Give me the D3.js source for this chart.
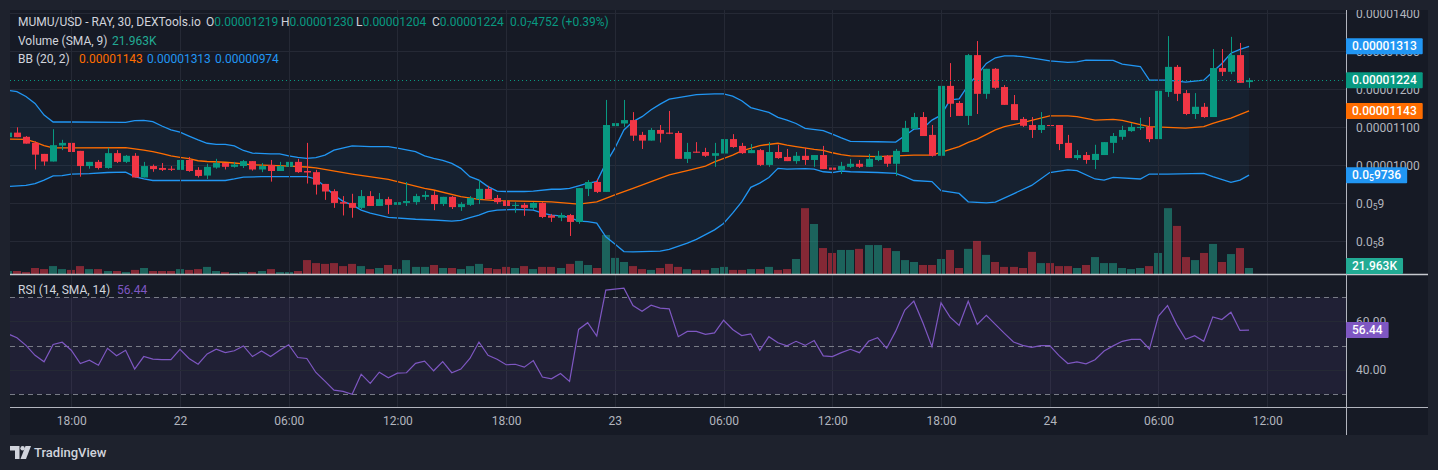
<!DOCTYPE html>
<html><head><meta charset="utf-8">
<script src="https://cdn.jsdelivr.net/npm/d3@7"></script>
<style>
html,body{margin:0;padding:0;background:#1e222d;overflow:hidden;}
svg{display:block;font-family:Roboto,"Noto Sans",sans-serif;}
</style></head><body>
<svg id="c" width="1438" height="470"></svg>
<script>
// ---------------- DATA (prices in units of 1e-8 USD, candle index -1..136, 30-minute candles) ----------------
const firstIndex = -1;
const opens = [1074,
 1086,1075,1059,1030,1010,1052,1059,1038,998,1009,
 993,1032,1009,1025,968,998,993,991,988,1014,
 988,973,994,1006,996,998,1011,989,1001,985,
 996,1009,985,982,951,932,903,901,888,919,
 893,911,896,901,903,917,922,898,917,890,
 896,911,938,914,906,893,896,888,901,868,
 862,869,851,938,956,930,1103,1110,1119,1080,
 1065,1093,1086,1085,1017,1036,1035,1025,1031,1069,
 1051,1032,1040,1001,1035,1022,1011,1025,1014,1027,
 994,988,996,1004,996,1014,1025,1004,1035,1096,
 1127,1080,1025,1209,1164,1130,1290,1188,1254,1206,
 1161,1122,1106,1093,1106,1106,1059,1019,1027,1014,
 1027,1059,1075,1090,1098,1101,1069,1193,1259,1190,
 1135,1154,1127,1256,1246,1290,1219];
const highs = [1086,
 1100,1077,1063,1030,1095,1067,1064,1038,1009,1014,
 1046,1040,1027,1032,1009,1002,1006,998,1022,1022,
 995,1004,1017,1006,1009,1014,1011,1006,1014,1009,
 1017,1017,1059,988,951,937,919,925,935,932,
 927,917,917,956,925,932,932,917,919,903,
 919,961,946,922,906,903,901,903,903,872,
 875,872,940,961,964,1172,1140,1172,1140,1088,
 1098,1106,1143,1090,1059,1061,1046,1059,1085,1082,
 1059,1056,1043,1061,1054,1043,1035,1046,1027,1051,
 1004,1009,1017,1014,1030,1038,1027,1043,1117,1138,
 1140,1106,1217,1269,1169,1293,1327,1254,1256,1211,
 1185,1127,1127,1140,1138,1106,1080,1040,1035,1054,
 1061,1085,1104,1111,1125,1127,1225,1340,1264,1198,
 1190,1164,1306,1306,1338,1322,1230];
const lows = [1072,
 1074,1057,989,999,1010,1040,1035,970,991,989,
 991,1006,1006,968,968,983,985,985,981,983,
 968,964,991,989,994,993,986,982,957,985,
 993,980,952,923,909,888,868,862,885,893,
 893,872,888,893,896,909,882,893,885,880,
 893,898,911,898,882,875,867,882,861,851,
 853,814,846,919,927,930,1043,1101,1064,1043,
 1065,1060,1082,1017,1006,1033,1022,996,1031,1046,
 1030,1032,998,996,1017,1011,1004,1001,996,990,
 975,977,993,993,996,1011,996,972,1035,1096,
 1077,1023,1020,1127,1130,1106,1135,1175,1201,1159,
 1119,1101,1072,1085,1096,1040,1019,1014,1004,990,
 1027,1032,1067,1088,1093,1061,1069,1180,1169,1132,
 1122,1125,1127,1235,1240,1217,1204];
const closes = [1086,
 1074,1057,1028,1010,1053,1059,1035,998,1009,993,
 1032,1009,1025,968,998,990,988,988,1014,985,
 972,996,1006,996,1002,1011,989,998,985,998,
 1009,982,981,949,931,901,899,888,919,893,
 911,896,903,906,919,922,898,917,890,898,
 914,938,911,903,893,896,888,901,864,862,
 869,851,940,956,930,1106,1111,1119,1078,1065,
 1093,1083,1083,1017,1035,1033,1025,1032,1069,1048,
 1032,1040,1001,1035,1019,1011,1025,1014,1027,990,
 988,998,1004,996,1017,1025,1004,1038,1098,1127,
 1077,1025,1209,1162,1130,1290,1188,1254,1204,1159,
 1119,1104,1093,1106,1104,1056,1019,1027,1014,1030,
 1061,1077,1093,1101,1101,1069,1196,1259,1188,1135,
 1154,1127,1256,1246,1290,1217,1224];
// volume in thousands
const volumes = [11,
 11,7,22,18,29,18,15,29,18,18,
 11,11,7,15,22,11,11,11,18,15,
 18,26,11,7,4,7,7,11,18,7,
 7,11,51,40,37,40,29,37,29,18,
 22,33,18,51,26,26,33,22,22,18,
 29,37,22,18,26,22,29,18,26,26,
 22,37,48,33,22,143,59,44,29,18,
 15,22,37,26,18,15,15,22,26,15,
 15,18,18,26,15,18,55,241,183,95,
 77,88,88,92,106,106,95,84,51,44,
 33,33,55,88,22,92,121,70,44,26,
 26,22,81,40,40,29,29,22,33,62,
 40,40,22,18,22,29,77,241,176,62,
 51,77,110,44,73,95,21.963];
const rsiValues = [54.9,
 53.3,50.1,46.0,43.3,50.5,51.4,48.1,42.6,44.0,41.9,
 48.9,45.8,48.1,40.3,45.5,44.4,44.2,44.2,48.5,44.7,
 42.3,46.6,48.5,47.1,47.9,49.9,45.5,47.8,45.5,48.1,
 50.4,45.1,44.7,38.9,35.3,31.6,31.1,29.9,38.2,34.4,
 39.0,36.7,38.6,38.8,42.7,43.6,39.6,43.4,38.8,40.3,
 44.7,51.5,46.0,44.4,42.1,42.3,41.1,43.8,37.0,36.3,
 38.5,35.2,56.7,59.5,54.0,73.0,73.4,73.8,66.6,64.2,
 66.7,65.5,65.2,53.7,55.9,55.9,54.7,55.3,60.5,56.7,
 54.2,54.9,48.1,53.7,51.2,49.9,51.8,50.1,52.1,45.8,
 45.5,47.1,48.5,47.1,51.8,53.3,48.9,56.0,64.7,68.4,
 59.5,49.6,67.7,61.8,58.4,68.4,58.8,62.5,58.8,55.1,
 51.5,50.1,49.3,50.0,50.0,46.0,42.6,43.3,42.5,44.2,
 47.8,49.9,51.8,52.6,52.6,48.6,62.2,66.6,58.8,52.6,
 54.1,51.8,61.9,60.8,63.8,56.3,56.44];
// Bollinger bands: [candle index, value]
const bbUpper = [[-1,1197],[0,1194],[1,1181],[2,1163],[3,1132],[4,1114],[6,1114],[12,1113],[13,1117.5],[14,1118],[15,1115],[16,1103.5],[17,1093],[18,1087],[19,1077],[20,1067],[21,1058],[22,1055],[23,1055],[24,1051],[25,1039],[26,1032],[28,1030],[29,1030],[30,1025],[31,1021],[32,1018],[33,1020],[34,1027],[35,1040],[37,1051],[39,1049],[41,1049],[42,1045],[44,1036],[45,1025],[46,1018],[47,1013],[48,1005],[49,992],[50,970],[51,961],[52,944],[53,932],[54,931],[56,931],[57,932],[59,937],[60,937],[61,939],[62,946],[63,953],[64,957],[65,1005],[66,1045],[67,1093],[68,1115],[69,1128],[70,1146],[71,1161],[72,1174],[74,1182],[75,1186],[77,1188],[78,1188],[79,1182],[80,1170],[81,1152],[83,1139],[84,1126],[85,1119],[86,1110],[87,1097],[89,1091],[90,1082],[91,1072],[92,1063],[95,1062],[97,1061],[98,1078],[99,1095],[100,1097],[101,1119],[102,1132],[103,1172],[104,1175],[105,1211],[106,1238],[107,1268],[108,1283],[109,1288],[110,1288],[111,1286],[113,1279],[114,1275],[116,1271],[117,1272],[118,1277],[121,1276],[122,1266],[124,1260],[125,1224],[127,1224],[129,1219],[131,1224],[132,1246],[133,1268],[134,1295],[135,1305],[136,1313]];
const bbBasis = [[-1,1069],[1,1068],[2,1061],[3,1052],[4,1046],[6,1046],[12,1046.5],[13,1043],[14,1040],[15,1036],[16,1031],[17,1025],[18,1021],[19,1017.5],[20,1012],[21,1010],[23,1008],[24,1006],[25,1004],[26,1001],[28,1000],[30,998],[32,995.5],[33,993],[37,977],[41,963],[45,939.5],[46,935],[49,917.5],[51,910.5],[53,907],[57,905],[59,903.5],[61,900],[62,898],[64,904],[65,913],[66,922],[68,939.5],[70,957],[72,974.6],[74,986],[76,998],[77,1009],[79,1027],[80,1038],[82,1052],[84,1058],[85,1053],[86,1049],[88,1042],[89,1039.5],[90,1033],[91,1028],[92,1025],[95,1023],[97,1025],[99,1027],[101,1027],[104,1049],[105,1060.5],[106,1069],[108,1093],[109,1102],[111,1112],[114,1130],[116,1130],[117,1128],[119,1119],[121,1121],[122,1118],[124,1107],[125,1102],[127,1100],[129,1098],[131,1102],[132,1110.5],[133,1117.5],[134,1124],[136,1143]];
const bbLower = [[-1,944],[1,947],[2,952],[3,961],[4,972],[5,973],[6,977],[8,978],[10,981],[12,982],[13,970],[14,964],[15,960],[18,960],[20,960],[23,960],[24,964],[25,969],[27,970],[32,970],[33,964],[34,944],[35,922],[36,905],[37,896],[38,882],[39,874],[41,863],[44,858],[46,856],[48,853],[49,855],[50,862],[51,869],[52,878],[53,882],[55,884],[57,882],[58,874],[59,869],[60,867],[61,863],[62,853],[63,852],[64,848],[65,812],[66,793],[67,773],[68,772],[71,774],[72,779],[74,795],[75,805],[77,830],[78,847],[79,874],[80,904],[81,942],[82,953],[83,968],[84,992],[85,990],[87,991],[88,990],[89,983],[90,981],[91,985],[92,983],[95,981],[97,979],[98,970],[99,960],[101,957],[102,933],[104,926],[105,904],[107,901],[108,903],[110,925],[112,947],[114,981],[116,988],[117,986],[119,964],[120,961],[121,968],[124,964],[125,977],[127,977],[131,979],[132,970],[134,955],[135,961],[136,974]];

const timeTickIdx = [6,18,30,42,54,66,78,90,102,114,126,138];
const timeTickLabels = ["18:00","22","06:00","12:00","18:00","23","06:00","12:00","18:00","24","06:00","12:00"];
const priceTicks = [1400,1300,1200,1100,1000,900,800];
const priceTickLabels = ["0.00001400","0.00001300","0.00001200","0.00001100","0.00001000","0.0\u20859","0.0\u20858"];
const rsiTicks = [60,40];
const rsiTickLabels = ["60.00","40.00"];
const rsiBands = [70,50,30];

const legendTitle = "MUMU/USD - RAY, 30, DEXTools.io";
const legendOHLC = [["O","0.00001219"],["H","0.00001230"],["L","0.00001204"],["C","0.00001224"]];
const legendChange = "0.0\u20874752 (+0.39%)";
const volLegend = ["Volume (SMA, 9)","21.963K"];
const bbLegend = ["BB (20, 2)","0.00001143","0.00001313","0.00000974"];
const rsiLegend = ["RSI (14, SMA, 14)","56.44"];
const lastLabels = {upper:"0.00001313", close:"0.00001224", basis:"0.00001143", lower:"0.0\u20859736", volume:"21.963K", rsi:"56.44"};

// ---------------- LAYOUT ----------------
const L=10, T=10, PR=1346, AX=1428, MB=274, RB=407, TB=435;
const GREEN="#089981", RED="#f23645", BLUE="#2196f3", ORANGE="#ff6d00", PURPLE="#7e57c2";
const GRID="#252935", TXT="#b2b5be";

const svg = d3.select("#c");
const defs = svg.append("defs");
defs.append("clipPath").attr("id","mainClip").append("rect").attr("x",L).attr("y",T).attr("width",PR-L).attr("height",MB-T);
defs.append("clipPath").attr("id","rsiClip").append("rect").attr("x",L).attr("y",MB).attr("width",PR-L).attr("height",RB-MB);
defs.append("clipPath").attr("id","axClip").append("rect").attr("x",PR).attr("y",T).attr("width",AX-PR).attr("height",MB-T);

svg.append("rect").attr("width",1438).attr("height",470).attr("fill","#1e222d");
svg.append("rect").attr("x",L).attr("y",T).attr("width",AX-L).attr("height",TB-T).attr("fill","#161a25");

const x = d3.scaleLinear().domain([0,136]).range([16.9, 16.9+136*9.06]);
const y = d3.scaleLinear().domain([800,1400]).range([241.3,13.3]);
const vy = d3.scaleLinear().domain([0,250]).range([MB, MB-250/3.66]);
const ry = d3.scaleLinear().domain([30,70]).range([394,297.3]);

const candles = opens.map((o,i)=>({i:i+firstIndex,o,h:highs[i],l:lows[i],c:closes[i],v:volumes[i],r:rsiValues[i]}));
const up = d=>d.c>=d.o;

// ---------------- MAIN PANE ----------------
const main = svg.append("g").attr("clip-path","url(#mainClip)");
main.selectAll(".hg").data(priceTicks).join("line")
  .attr("x1",L).attr("x2",PR).attr("y1",d=>Math.round(y(d))+0.5).attr("y2",d=>Math.round(y(d))+0.5)
  .attr("stroke",GRID);
svg.append("g").selectAll("line").data(timeTickIdx).join("line")
  .attr("x1",d=>Math.round(x(d))+0.5).attr("x2",d=>Math.round(x(d))+0.5).attr("y1",T).attr("y2",RB)
  .attr("stroke",GRID);

// BB fill
const bandPoly = bbUpper.map(d=>[x(d[0]),y(d[1])]).concat(bbLower.slice().reverse().map(d=>[x(d[0]),y(d[1])]));
main.append("path").attr("d","M"+bandPoly.map(p=>p.join(",")).join("L")+"Z").attr("fill","rgba(33,150,243,0.06)");

// volume
main.selectAll(".vol").data(candles).join("rect")
  .attr("x",d=>Math.round(x(d.i)-4)).attr("width",8)
  .attr("y",d=>vy(d.v)).attr("height",d=>MB-vy(d.v))
  .attr("fill",d=>up(d)?"rgba(34,171,148,0.5)":"rgba(242,54,69,0.5)");

// BB lines
const line = d3.line().x(d=>x(d[0])).y(d=>y(d[1]));
main.append("path").attr("d",line(bbUpper)).attr("fill","none").attr("stroke",BLUE).attr("stroke-width",1.3);
main.append("path").attr("d",line(bbLower)).attr("fill","none").attr("stroke",BLUE).attr("stroke-width",1.3);
main.append("path").attr("d",line(bbBasis)).attr("fill","none").attr("stroke",ORANGE).attr("stroke-width",1.3);

// candles
const cg = main.append("g");
cg.selectAll(".wick").data(candles).join("line")
  .attr("x1",d=>Math.round(x(d.i))+0.5).attr("x2",d=>Math.round(x(d.i))+0.5)
  .attr("y1",d=>y(d.h)).attr("y2",d=>y(d.l))
  .attr("stroke",d=>up(d)?GREEN:RED).attr("stroke-width",1);
cg.selectAll(".body").data(candles).join("rect")
  .attr("x",d=>Math.round(x(d.i))-3).attr("width",7)
  .attr("y",d=>y(Math.max(d.o,d.c))).attr("height",d=>Math.max(1,Math.abs(y(d.o)-y(d.c))))
  .attr("fill",d=>up(d)?GREEN:RED);

// last price dotted line
const last = candles[candles.length-1];
main.append("line").attr("x1",L).attr("x2",PR).attr("y1",Math.round(y(last.c))+0.5).attr("y2",Math.round(y(last.c))+0.5)
  .attr("stroke",GREEN).attr("stroke-dasharray","1,3");

// ---------------- RSI PANE ----------------
const rsi = svg.append("g").attr("clip-path","url(#rsiClip)");
rsi.append("rect").attr("x",L).attr("width",PR-L).attr("y",ry(70)).attr("height",ry(30)-ry(70)).attr("fill","rgba(126,87,194,0.1)");
rsi.selectAll(".rg").data(rsiTicks).join("line").attr("x1",L).attr("x2",PR)
  .attr("y1",d=>Math.round(ry(d))+0.5).attr("y2",d=>Math.round(ry(d))+0.5).attr("stroke",GRID);
rsi.selectAll(".rb").data(rsiBands).join("line").attr("x1",L).attr("x2",PR)
  .attr("y1",d=>Math.round(ry(d))+0.5).attr("y2",d=>Math.round(ry(d))+0.5)
  .attr("stroke","#787b86").attr("stroke-dasharray","5,4");
rsi.append("path").attr("d",d3.line().x(d=>x(d.i)).y(d=>ry(d.r))(candles))
  .attr("fill","none").attr("stroke",PURPLE).attr("stroke-width",1.2);

// ---------------- SEPARATORS ----------------
svg.append("line").attr("x1",L).attr("x2",AX).attr("y1",MB+0.5).attr("y2",MB+0.5).attr("stroke","#c7c9cf").attr("stroke-width",1.5);
svg.append("line").attr("x1",L).attr("x2",AX).attr("y1",RB+0.5).attr("y2",RB+0.5).attr("stroke","#b2b5be");
svg.append("line").attr("x1",PR+0.5).attr("x2",PR+0.5).attr("y1",T).attr("y2",TB).attr("stroke","#b2b5be");

// ---------------- HELPERS ----------------
function subText(sel, str){
  const parts = str.split(/([\u2080-\u2089])/);
  let sub=false;
  parts.forEach(p=>{
    if(!p) return;
    if(/[\u2080-\u2089]/.test(p)){
      sel.append("tspan").attr("font-size","0.72em").attr("dy",3).text(String.fromCharCode(p.charCodeAt(0)-0x2080+48));
      sub=true;
    } else {
      const t = sel.append("tspan").text(p);
      if(sub){t.attr("dy",-3); sub=false;}
    }
  });
}

// ---------------- AXES ----------------
const xAxis = d3.axisBottom(x).tickValues(timeTickIdx).tickFormat((d,i)=>timeTickLabels[i]).tickSize(0).tickPadding(0);
const xg = svg.append("g").attr("transform",`translate(0,${RB+8})`).call(xAxis);
xg.select(".domain").remove();
xg.selectAll("text").attr("fill",TXT).attr("font-size",12).attr("font-family","Roboto, sans-serif").attr("dy","0.85em");

const yAxis = d3.axisRight(y).tickValues(priceTicks).tickFormat(()=>"").tickSize(0);
const yWrap = svg.append("g").attr("clip-path","url(#axClip)");
const yg = yWrap.append("g").attr("transform",`translate(${PR+10},0)`).call(yAxis);
yg.select(".domain").remove();
yg.selectAll("text").each(function(d){
  const t=d3.select(this).attr("fill",TXT).attr("font-size",12).attr("font-family","Roboto, sans-serif")
    .attr("x",0).attr("dy",null).attr("dominant-baseline","central").attr("text-anchor","start");
  t.text(null); subText(t, priceTickLabels[priceTicks.indexOf(d)]);
});

const ryAxis = d3.axisRight(ry).tickValues(rsiTicks).tickFormat((d,i)=>rsiTickLabels[i]).tickSize(0);
const rg = svg.append("g").attr("transform",`translate(${PR+10},0)`).call(ryAxis);
rg.select(".domain").remove();
rg.selectAll("text").attr("fill",TXT).attr("font-size",12).attr("font-family","Roboto, sans-serif")
  .attr("x",0).attr("dy",null).attr("dominant-baseline","central");

// ---------------- LAST VALUE BOXES ----------------
function box(label, cy, color){
  const g = svg.append("g");
  const r = g.append("rect").attr("x",PR).attr("y",cy-8).attr("height",16).attr("rx",1).attr("fill",color);
  const t = g.append("text").attr("x",PR+6).attr("y",cy).attr("dominant-baseline","central")
    .attr("fill","#ffffff").attr("font-size",12).attr("font-weight",500);
  subText(t,label);
  const w = t.node().getComputedTextLength();
  r.attr("width",w+12);
}
box(lastLabels.upper, y(bbUpper[bbUpper.length-1][1]), BLUE);
box(lastLabels.close, y(last.c), GREEN);
box(lastLabels.basis, y(bbBasis[bbBasis.length-1][1]), ORANGE);
box(lastLabels.lower, y(bbLower[bbLower.length-1][1]), BLUE);
box(lastLabels.volume, Math.min(vy(last.v), MB-8), "#22ab94");
box(lastLabels.rsi, ry(last.r), PURPLE);

// ---------------- LEGENDS ----------------
const lg = svg.append("g").attr("font-size",12).attr("dominant-baseline","central");
lg.append("text").attr("x",18).attr("y",22).attr("fill","#d1d4dc").text(legendTitle);
const ohlcX=[206,281,356,432];
legendOHLC.forEach((p,i)=>{
  const t=lg.append("text").attr("x",ohlcX[i]).attr("y",22).attr("dominant-baseline","central");
  t.append("tspan").attr("fill","#d1d4dc").text(p[0]);
  t.append("tspan").attr("fill",GREEN).text(p[1]);
});
const ct = lg.append("text").attr("x",510).attr("y",22).attr("fill",GREEN).attr("dominant-baseline","central");
subText(ct, legendChange);
lg.append("text").attr("x",18).attr("y",41).attr("fill","#d1d4dc").text(volLegend[0]);
lg.append("text").attr("x",112).attr("y",41).attr("fill","#22ab94").text(volLegend[1]);
lg.append("text").attr("x",18).attr("y",59).attr("fill","#d1d4dc").text(bbLegend[0]);
lg.append("text").attr("x",79).attr("y",59).attr("fill",ORANGE).text(bbLegend[1]);
lg.append("text").attr("x",147).attr("y",59).attr("fill",BLUE).text(bbLegend[2]);
lg.append("text").attr("x",215).attr("y",59).attr("fill",BLUE).text(bbLegend[3]);
lg.append("text").attr("x",18).attr("y",290).attr("fill","#d1d4dc").text(rsiLegend[0]);
lg.append("text").attr("x",117).attr("y",290).attr("fill",PURPLE).text(rsiLegend[1]);

// ---------------- TRADINGVIEW LOGO ----------------
const logo = svg.append("g").attr("fill","#d1d4dc");
logo.append("path").attr("d","M10 446 H19.5 V459 H15 V450.5 H10 Z");
logo.append("circle").attr("cx",22.6).attr("cy",448.2).attr("r",2.2);
logo.append("path").attr("d","M25.5 446 H31 L26 459 H20.5 Z");
logo.append("text").attr("x",34).attr("y",452.5).attr("dominant-baseline","central").attr("font-size",13)
  .attr("font-weight",500).text("TradingView");
</script>
</body></html>
